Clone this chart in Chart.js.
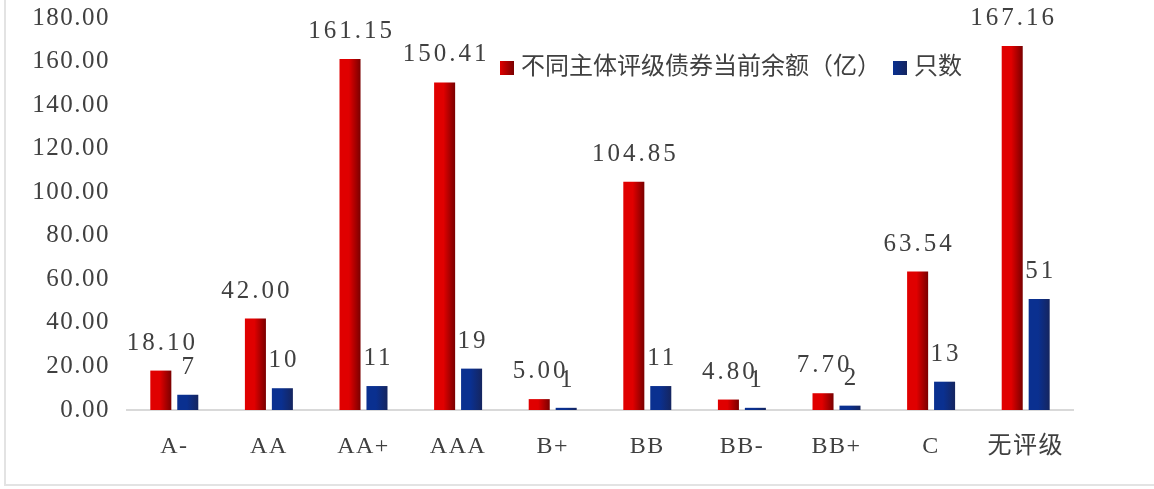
<!DOCTYPE html>
<html>
<head>
<meta charset="UTF-8">
<title>主体评级债券</title>
<script src="https://cdn.jsdelivr.net/npm/chart.js/dist/chart.umd.min.js"></script>
<style>
  html, body { margin: 0; padding: 0; background: #fff; }
  #wrap { position: relative; width: 1154px; height: 489px; }
  #frameL { position: absolute; left: 4px; top: 0; width: 2px; height: 486px; background: #e3e3e3; }
  #frameB { position: absolute; left: 4px; top: 484px; width: 1150px; height: 2px; background: #e3e3e3; }
</style>
</head>
<body>
<div id="wrap">
  <canvas id="bondChart" width="1154" height="489"></canvas>
  <div id="frameL"></div>
  <div id="frameB"></div>
</div>
<script>
// ratings on the x axis
const ratings = ['A-', 'AA', 'AA+', 'AAA', 'B+', 'BB', 'BB-', 'BB+', 'C', '无评级'];
// outstanding amount (亿) and number of bonds
const amount = [18.10, 42.00, 161.15, 150.41, 5.00, 104.85, 4.80, 7.70, 63.54, 167.16];
const count = [7, 10, 11, 19, 1, 11, 1, 2, 13, 51];
const seriesNames = ['不同主体评级债券当前余额（亿）', '只数'];
const yTicks = [0, 20, 40, 60, 80, 100, 120, 140, 160, 180];

const FONT = '"Liberation Serif", "Noto Sans CJK SC", serif';
const TEXT = '#404040';
const CAT_PCT = 0.57, BAR_PCT = 0.78;

// horizontal gradient for each bar, light on the left, dark on the right
function barGradient(ds, light, dark) {
  return function (ctx) {
    const chart = ctx.chart;
    const x = chart.scales.x;
    if (!x || ctx.dataIndex === undefined) return light;
    const cat = x.width / ratings.length;
    const slot = cat * CAT_PCT / 2;
    const bw = slot * BAR_PCT;
    const c = x.getPixelForValue(ctx.dataIndex);
    const left = c - slot + ds * slot + (slot - bw) / 2;
    if (!isFinite(left) || !isFinite(bw) || bw <= 0) return light;
    const g = chart.ctx.createLinearGradient(left, 0, left + bw, 0);
    g.addColorStop(0, light);
    g.addColorStop(0.45, light);
    g.addColorStop(1, dark);
    return g;
  };
}

// wider digit spacing, like the original song-style numerals
const spacing = {
  id: 'spacing',
  beforeDraw(chart) { chart.ctx.letterSpacing = '1.5px'; }
};

// numbers above the bars
const valueLabels = {
  id: 'valueLabels',
  afterDatasetsDraw(chart) {
    const ctx = chart.ctx;
    ctx.save();
    ctx.letterSpacing = '3px';
    ctx.font = '25px ' + FONT;
    ctx.fillStyle = TEXT;
    ctx.textAlign = 'center';
    ctx.textBaseline = 'alphabetic';
    chart.data.datasets.forEach((ds, i) => {
      chart.getDatasetMeta(i).data.forEach((bar, j) => {
        const txt = i === 0 ? ds.data[j].toFixed(2) : String(ds.data[j]);
        ctx.fillText(txt, bar.x + 1.5, bar.y - 21);
      });
    });
    ctx.restore();
  }
};

// legend drawn inside the plot area
const innerLegend = {
  id: 'innerLegend',
  afterDraw(chart) {
    const ctx = chart.ctx;
    const colors = [['#e00000', '#7a0000'], ['#0a3090', '#15255f']];
    ctx.save();
    ctx.letterSpacing = '0px';
    ctx.font = '24px ' + FONT;
    ctx.fillStyle = TEXT;
    ctx.textBaseline = 'middle';
    let x = 500;
    const y = 68;
    seriesNames.forEach((name, i) => {
      const g = ctx.createLinearGradient(x, 0, x + 14, 0);
      g.addColorStop(0, colors[i][0]);
      g.addColorStop(1, colors[i][1]);
      ctx.fillStyle = g;
      ctx.fillRect(x, y - 7, 14, 14);
      ctx.fillStyle = TEXT;
      ctx.fillText(name, x + 21, y);
      x += 21 + ctx.measureText(name).width + 12;
    });
    ctx.restore();
  }
};

new Chart(document.getElementById('bondChart'), {
  type: 'bar',
  data: {
    labels: ratings,
    datasets: [
      {
        label: seriesNames[0],
        data: amount,
        backgroundColor: barGradient(0, '#e00000', '#7a0000'),
        categoryPercentage: CAT_PCT,
        barPercentage: BAR_PCT
      },
      {
        label: seriesNames[1],
        data: count,
        backgroundColor: barGradient(1, '#0a3090', '#15255f'),
        categoryPercentage: CAT_PCT,
        barPercentage: BAR_PCT
      }
    ]
  },
  options: {
    responsive: false,
    animation: false,
    layout: { padding: { top: 18, right: 81, bottom: 5, left: 8 } },
    plugins: {
      legend: { display: false },
      tooltip: { enabled: false }
    },
    scales: {
      x: {
        grid: { display: false, drawTicks: false },
        border: { display: true, color: '#d9d9d9', width: 2 },
        ticks: { color: TEXT, font: { family: FONT, size: 24 }, padding: 22 },
        afterFit(scale) { scale.height = 74; scale.paddingLeft = 0; scale.paddingRight = 0; }
      },
      y: {
        min: 0,
        max: 180,
        grid: { display: false, drawTicks: false },
        border: { display: false },
        afterBuildTicks(scale) { scale.ticks = yTicks.map(v => ({ value: v })); },
        ticks: {
          color: TEXT,
          font: { family: FONT, size: 25 },
          padding: 17,
          callback: v => Number(v).toFixed(2)
        },
        afterFit(scale) { scale.width = 119; scale.paddingTop = 0; scale.paddingBottom = 0; }
      }
    }
  },
  plugins: [spacing, valueLabels, innerLegend]
});
</script>
</body>
</html>
